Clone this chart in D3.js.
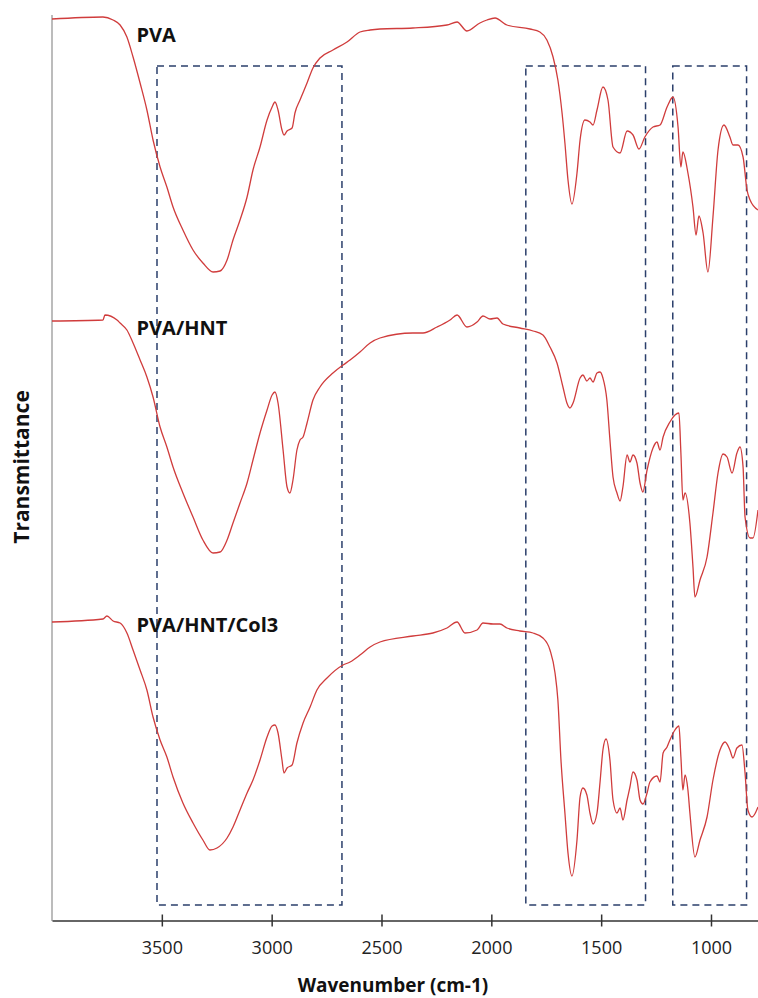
<!DOCTYPE html>
<html>
<head>
<meta charset="utf-8">
<script src="https://cdn.jsdelivr.net/npm/d3@7"></script>
<style>
    body { margin: 0; background: #fff; }
    svg { display: block; font-family: 'Open Sans', sans-serif; }
</style>
</head>
<body>
<script>
var WIDTH = 758,
    HEIGHT = 998;

// spectra: [wavenumber (cm-1), transmittance (offset, a.u.)]
var pva = [
    [4000, 90.2], [3768, 90.4], [3722, 90.1], [3690, 89.6], [3659, 88.4], [3631, 86.4],
    [3599, 83.8], [3568, 81.1], [3540, 78.1], [3508, 75.4], [3477, 73.4], [3449, 71.4],
    [3404, 69.1], [3358, 67.1], [3313, 65.8], [3267, 64.9], [3235, 65.0], [3203, 66.1],
    [3176, 68.1], [3144, 70.1], [3112, 72.4], [3085, 75.1], [3053, 77.4], [3021, 80.1],
    [2998, 81.4], [2985, 81.9], [2971, 81.1], [2953, 79.1], [2944, 78.6], [2930, 79.0],
    [2907, 79.3], [2894, 80.8], [2871, 82.1], [2839, 83.8], [2812, 85.3], [2780, 86.3],
    [2721, 87.1], [2657, 87.9], [2598, 88.9], [2552, 89.1], [2507, 89.2], [2357, 89.3],
    [2202, 89.6], [2156, 89.9], [2111, 89.0], [2052, 89.8], [2020, 90.1], [1983, 90.3],
    [1929, 89.6], [1824, 89.2], [1779, 88.9], [1747, 88.1], [1719, 86.4], [1697, 84.1],
    [1678, 80.8], [1665, 77.8], [1651, 74.1], [1633, 71.7], [1610, 74.8], [1596, 78.1],
    [1574, 80.1], [1551, 79.9], [1537, 79.6], [1519, 81.1], [1492, 83.4], [1469, 82.1],
    [1446, 77.4], [1414, 76.8], [1382, 79.0], [1355, 78.6], [1328, 77.2], [1301, 78.4],
    [1264, 79.4], [1232, 79.6], [1200, 81.4], [1173, 82.4], [1150, 79.4], [1137, 75.4],
    [1128, 76.9], [1105, 74.8], [1082, 71.4], [1068, 68.6], [1055, 70.5], [1036, 68.8],
    [1014, 64.9], [991, 70.4], [968, 77.1], [941, 79.6], [914, 78.4], [900, 77.6],
    [877, 77.6], [854, 76.4], [836, 73.1], [822, 72.1], [786, 71.1]
];

var pvaHnt = [
    [4000, 60.0], [3768, 60.1], [3759, 60.6], [3704, 60.1], [3690, 59.8], [3659, 59.1],
    [3631, 57.8], [3599, 56.1], [3568, 54.4], [3540, 52.4], [3508, 49.4], [3477, 47.4],
    [3449, 45.4], [3404, 42.8], [3358, 40.4], [3313, 38.1], [3267, 36.8], [3235, 36.9],
    [3203, 38.1], [3176, 39.8], [3144, 41.8], [3112, 43.8], [3085, 46.1], [3053, 48.8],
    [3021, 51.1], [2998, 52.6], [2985, 52.9], [2971, 51.8], [2948, 47.1], [2930, 43.4],
    [2917, 42.8], [2903, 44.1], [2885, 47.1], [2871, 48.1], [2857, 48.4], [2839, 49.8],
    [2812, 52.1], [2780, 53.4], [2721, 54.8], [2675, 55.6], [2643, 56.1], [2598, 56.9],
    [2552, 57.8], [2507, 58.3], [2357, 58.8], [2311, 58.8], [2247, 59.4], [2188, 60.1],
    [2156, 60.6], [2111, 59.4], [2065, 59.9], [2038, 60.5], [2006, 60.2], [1974, 60.3],
    [1947, 59.7], [1870, 59.3], [1810, 59.0], [1765, 58.6], [1733, 57.4], [1701, 55.8],
    [1674, 53.4], [1656, 51.8], [1642, 51.3], [1628, 51.8], [1596, 54.3], [1583, 54.6],
    [1565, 54.0], [1551, 54.3], [1537, 53.9], [1519, 54.8], [1505, 54.9], [1492, 54.3],
    [1474, 52.1], [1460, 48.1], [1446, 44.4], [1428, 42.8], [1414, 42.0], [1401, 43.4],
    [1382, 46.6], [1369, 45.9], [1355, 46.6], [1337, 45.8], [1323, 43.8], [1310, 42.9],
    [1291, 45.1], [1264, 47.3], [1246, 47.9], [1232, 47.1], [1218, 48.4], [1187, 49.9],
    [1164, 50.6], [1146, 50.8], [1137, 46.8], [1128, 42.1], [1118, 42.8], [1096, 39.8],
    [1082, 35.4], [1073, 32.4], [1050, 34.1], [1018, 36.4], [991, 40.8], [968, 44.8],
    [945, 46.7], [927, 46.4], [904, 44.8], [882, 46.8], [868, 47.4], [854, 45.4],
    [845, 40.4], [822, 38.3], [809, 38.3], [786, 41.1]
];

var pvaHntCol3 = [
    [4000, 29.9], [3768, 30.2], [3750, 30.5], [3722, 30.0], [3690, 29.8], [3659, 28.8],
    [3631, 27.1], [3599, 25.1], [3568, 23.1], [3540, 20.4], [3508, 18.1], [3477, 16.4],
    [3449, 14.4], [3404, 11.8], [3358, 9.8], [3313, 8.1], [3281, 7.1], [3249, 7.3],
    [3203, 8.3], [3176, 9.4], [3144, 11.1], [3112, 12.8], [3085, 14.1], [3053, 16.1],
    [3021, 18.4], [2998, 19.5], [2985, 19.6], [2971, 18.8], [2953, 16.1], [2944, 14.8],
    [2930, 15.3], [2907, 15.6], [2885, 17.8], [2857, 19.8], [2825, 21.4], [2794, 23.1],
    [2748, 24.3], [2675, 25.6], [2643, 25.9], [2598, 26.6], [2552, 27.4], [2507, 27.9],
    [2357, 28.5], [2266, 28.8], [2202, 29.3], [2156, 29.9], [2120, 28.8], [2065, 29.1],
    [2038, 29.8], [1992, 29.7], [1961, 29.7], [1929, 29.3], [1870, 29.0], [1810, 28.8],
    [1765, 28.3], [1733, 27.1], [1710, 24.8], [1697, 22.1], [1683, 16.1], [1665, 10.8],
    [1651, 6.8], [1633, 4.5], [1610, 8.1], [1596, 12.4], [1583, 13.3], [1565, 12.6],
    [1551, 10.8], [1537, 9.7], [1519, 10.8], [1505, 13.9], [1492, 17.1], [1478, 18.2],
    [1460, 16.1], [1446, 12.1], [1428, 10.8], [1414, 11.3], [1401, 10.1], [1382, 12.1],
    [1369, 13.4], [1355, 14.9], [1337, 14.1], [1323, 12.1], [1310, 11.7], [1291, 12.8],
    [1278, 13.9], [1246, 14.5], [1232, 13.9], [1218, 16.8], [1200, 17.4], [1187, 18.1],
    [1164, 19.1], [1146, 19.5], [1137, 16.4], [1128, 13.1], [1118, 14.6], [1105, 13.1],
    [1096, 10.8], [1073, 6.4], [1050, 8.1], [1018, 10.4], [991, 14.1], [959, 17.1],
    [936, 17.9], [914, 17.1], [900, 16.3], [882, 17.3], [859, 17.6], [845, 14.8],
    [832, 11.1], [813, 10.4], [786, 11.4]
];

var seriesNames = ['PVA', 'PVA/HNT', 'PVA/HNT/Col3'];
var xTicks = [3500, 3000, 2500, 2000, 1500, 1000];

// highlighted bands [from, to] in cm-1
var bands = [[3522, 2680], [1843, 1298], [1174, 838]];

var svg = d3.select('body').append('svg')
    .attr('width', WIDTH)
    .attr('height', HEIGHT);

var x = d3.scaleLinear()
    .domain([4000, 786])
    .range([52, 758]);

var y = d3.scaleLinear()
    .domain([0, 90.6])
    .range([921, 15]);

// y axis line (no ticks)
svg.append('line')
    .attr('x1', x(4000)).attr('x2', x(4000))
    .attr('y1', y(90.6)).attr('y2', y(0))
    .attr('stroke', '#a6a6a6')
    .attr('stroke-width', 1.5);

// bands
svg.append('g').selectAll('rect')
    .data(bands)
    .enter()
    .append('rect')
    .attr('x', d => x(d[0]))
    .attr('width', d => x(d[1]) - x(d[0]))
    .attr('y', y(85.5))
    .attr('height', y(1.6) - y(85.5))
    .attr('fill', 'none')
    .attr('stroke', '#2b3f6b')
    .attr('stroke-width', 1.5)
    .attr('stroke-dasharray', '7,5');

// spectra
var line = d3.line()
    .x(d => x(d[0]))
    .y(d => y(d[1]))
    .curve(d3.curveMonotoneX);

var spectra = [pva, pvaHnt, pvaHntCol3];

svg.append('g').selectAll('path')
    .data(spectra)
    .enter()
    .append('path')
    .attr('d', line)
    .attr('fill', 'none')
    .attr('stroke', '#d03c3c')
    .attr('stroke-width', 1.3);

// series labels
var labelOffsets = [23, 14, 10];
svg.append('g').selectAll('text')
    .data(seriesNames)
    .enter()
    .append('text')
    .attr('x', x(3615))
    .attr('y', (d, i) => y(spectra[i][0][1]) + labelOffsets[i])
    .attr('font-size', 20)
    .attr('font-weight', 'bold')
    .attr('fill', '#111')
    .text(d => d);

// x axis
var xAxis = svg.append('g')
    .attr('transform', 'translate(0,' + 920.5 + ')')
    .call(d3.axisBottom(x)
        .tickValues(xTicks)
        .tickSizeOuter(0)
        .tickSizeInner(6)
        .tickFormat(d3.format('d')));

xAxis.select('.domain')
    .attr('stroke', '#333')
    .attr('stroke-width', 1.5);

xAxis.selectAll('.tick line')
    .attr('y1', -6)
    .attr('y2', 6)
    .attr('stroke', '#333')
    .attr('stroke-width', 1.5);

xAxis.selectAll('.tick text')
    .attr('y', 33)
    .attr('dy', 0)
    .attr('font-size', 18)
    .attr('font-family', "'Open Sans', sans-serif")
    .attr('fill', '#222');

svg.append('text')
    .attr('x', 393)
    .attr('y', 992)
    .attr('text-anchor', 'middle')
    .attr('font-size', 19)
    .attr('font-weight', 'bold')
    .attr('fill', '#111')
    .text('Wavenumber (cm-1)');

svg.append('text')
    .attr('transform', 'translate(29,467) rotate(-90)')
    .attr('text-anchor', 'middle')
    .attr('font-size', 21)
    .attr('font-weight', 'bold')
    .attr('fill', '#111')
    .text('Transmittance');
</script>
</body>
</html>
